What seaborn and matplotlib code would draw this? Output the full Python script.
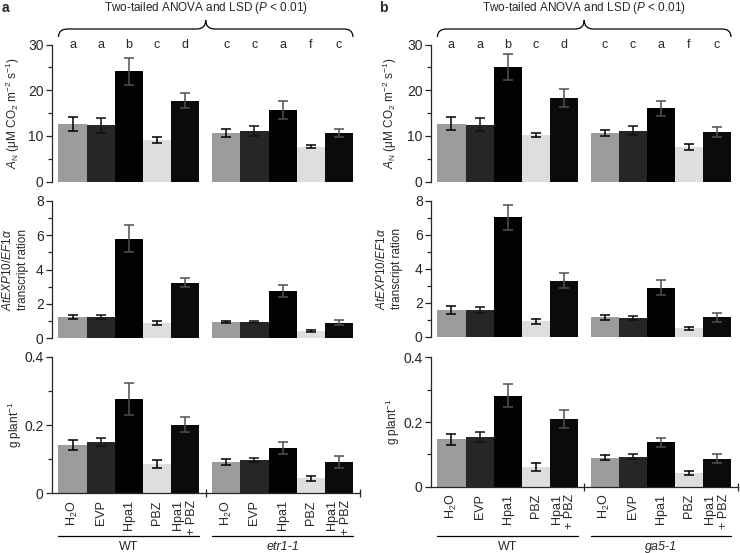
import numpy as np
import pandas as pd
import matplotlib.pyplot as plt
from matplotlib.path import Path
from matplotlib.patches import PathPatch
from matplotlib.lines import Line2D
import seaborn as sns

sns.set_style('ticks')
plt.rcParams['font.family'] = ['Liberation Sans', 'DejaVu Sans']
plt.rcParams['mathtext.fontset'] = 'custom'
plt.rcParams['mathtext.rm'] = 'Liberation Sans'
plt.rcParams['mathtext.it'] = 'Liberation Sans:italic'
plt.rcParams['mathtext.bf'] = 'Liberation Sans:bold'

# ---- data ----
treatments = ['H2O', 'EVP', 'Hpa1', 'PBZ', 'Hpa1+PBZ']
tick_labels = ['H$_2$O', 'EVP', 'Hpa1', 'PBZ', 'Hpa1\n+ PBZ']
bar_colors = ['#9c9c9c', '#262626', '#020202', '#dedede', '#0b0b0b']
err_colors = ['#000000', '#111111', '#505050', '#000000', '#505050']
letters = ['a', 'a', 'b', 'c', 'd', 'c', 'c', 'a', 'f', 'c']

# panel a : WT / etr1-1
an_a = [12.6, 12.3, 24.1, 9.1, 17.7, 10.6, 11.1, 15.6, 7.6, 10.7]
an_a_err = [1.45, 1.6, 3.0, 0.6, 1.6, 0.85, 1.1, 2.0, 0.35, 0.9]
exp_a = [1.24, 1.24, 5.8, 0.9, 3.24, 0.95, 0.95, 2.74, 0.45, 0.9]
exp_a_err = [0.14, 0.13, 0.8, 0.1, 0.28, 0.04, 0.04, 0.34, 0.06, 0.14]
gp_a = [0.141, 0.151, 0.276, 0.086, 0.201, 0.091, 0.098, 0.134, 0.044, 0.091]
gp_a_err = [0.015, 0.011, 0.047, 0.012, 0.022, 0.009, 0.007, 0.018, 0.007, 0.017]

# panel b : WT / ga5-1
an_b = [12.7, 12.4, 25.1, 10.2, 18.2, 10.6, 11.1, 16.0, 7.6, 10.8]
an_b_err = [1.35, 1.45, 2.9, 0.45, 1.95, 0.7, 1.0, 1.55, 0.65, 1.1]
exp_b = [1.57, 1.57, 7.02, 0.92, 3.29, 1.14, 1.08, 2.88, 0.49, 1.14]
exp_b_err = [0.22, 0.2, 0.73, 0.15, 0.43, 0.13, 0.12, 0.45, 0.08, 0.26]
gp_b = [0.146, 0.153, 0.281, 0.062, 0.209, 0.09, 0.093, 0.137, 0.041, 0.086]
gp_b_err = [0.017, 0.015, 0.036, 0.012, 0.028, 0.009, 0.008, 0.015, 0.006, 0.014]

groups_a = ['WT', 'etr1-1']
groups_b = ['WT', 'ga5-1']

GAP = 0.46
pos = [i for i in range(5)] + [5 + GAP + i for i in range(5)]
XLIM = (-0.73, 10.21)

W, H = 740, 553
fig = plt.figure(figsize=(W / 100, H / 100), dpi=100)


def rect(l, r, t, b):
    return [l / W, 1 - b / H, (r - l) / W, (b - t) / H]


def fig_xy(ax, xd, ypx):
    # data x of ax + pixel y from top -> figure fraction
    dx, _ = ax.transData.transform((xd, 0))
    return dx / W, 1 - ypx / H


def bars(ax, vals, errs, ymax, major, ylabel, lab_px, box, bottom=False, groups=None):
    df = pd.DataFrame({'pos': pos, 'val': vals, 'trt': treatments * 2})
    sns.barplot(data=df, x='pos', y='val', hue='trt', hue_order=treatments,
                palette=dict(zip(treatments, bar_colors)), native_scale=True,
                dodge=False, width=1.0, errorbar=None, saturation=1,
                linewidth=0, legend=False, ax=ax)
    for i in range(len(pos)):
        ax.errorbar(pos[i], vals[i], yerr=errs[i], fmt='none', ecolor=err_colors[i % 5],
                    elinewidth=1.1, capsize=3.8, capthick=1.1, zorder=5)
    ax.set_xlim(*XLIM)
    ax.set_ylim(0, ymax)
    ax.set_yticks(np.arange(0, ymax + 1e-9, major))
    ax.set_yticks(np.arange(0, ymax + 1e-9, major / 2), minor=True)
    ax.set_yticklabels([('%g' % v) for v in np.arange(0, ymax + 1e-9, major)])
    ax.tick_params(axis='y', which='major', direction='out', length=4, width=0.9,
                   labelsize=10, pad=2)
    ax.tick_params(axis='y', which='minor', direction='out', length=3, width=0.9)
    for s in ['top', 'right']:
        ax.spines[s].set_visible(False)
    ax.spines['left'].set_linewidth(0.9)
    ax.set_xlabel('')
    ax.set_ylabel(ylabel, fontsize=8.5, linespacing=1.3)
    ax.yaxis.label.set_va('center')
    ax.yaxis.set_label_coords((lab_px - box[0]) / (box[1] - box[0]), 0.5)
    if bottom:
        ax.spines['bottom'].set_linewidth(0.9)
        ax.set_xticks(pos)
        ax.set_xticklabels(tick_labels * 2, rotation=90, va='top', ha='center',
                           multialignment='right', fontsize=9, linespacing=1.15)
        ax.set_xticks([4.5 + GAP / 2, XLIM[1]], minor=True)
        ax.tick_params(axis='x', which='major', length=0, pad=5)
        ax.tick_params(axis='x', which='minor', direction='inout', length=6, width=0.9)
        for g, (a, b) in enumerate([(-0.5, 4.5), (4.5 + GAP, 9.5 + GAP)]):
            x0, y0 = fig_xy(ax, a, 536)
            x1, _ = fig_xy(ax, b, 536)
            fig.add_artist(Line2D([x0, x1], [y0, y0], color='black', lw=0.9))
            xm, ym = fig_xy(ax, (a + b) / 2, 547)
            fig.text(xm, ym, groups[g], ha='center', va='center', fontsize=9,
                     style='normal' if groups[g] == 'WT' else 'italic')
    else:
        ax.spines['bottom'].set_visible(False)
        ax.set_xticks([])


def brace(ax, title):
    a, b = -0.5, 9.5 + GAP
    xa = ax.transData.transform((a, 0))[0]
    xb = ax.transData.transform((b, 0))[0]
    xm = (xa + xb) / 2
    y_end, y_line, y_tip, r = H - 37, H - 29, H - 20, 9
    verts = [(xa, y_end), (xa, y_line), (xa + r, y_line),
             (xm - r, y_line), (xm, y_line), (xm, y_tip),
             (xm, y_line), (xm + r, y_line),
             (xb - r, y_line), (xb, y_line), (xb, y_end)]
    codes = [Path.MOVETO, Path.CURVE3, Path.CURVE3,
             Path.LINETO, Path.CURVE3, Path.CURVE3,
             Path.CURVE3, Path.CURVE3,
             Path.LINETO, Path.CURVE3, Path.CURVE3]
    verts = [(x / W, y / H) for x, y in verts]
    fig.add_artist(PathPatch(Path(verts, codes), transform=fig.transFigure,
                             fill=False, lw=0.9, color='black'))
    fig.text(xm / W, 1 - 8 / H, title, ha='center', va='center', fontsize=8.5)
    for p, l in zip(pos, letters):
        ax.text(p, ax.get_ylim()[1], l, ha='center', va='center', fontsize=9,
                clip_on=False)


an_label = r'$A_{\mathrm{N}}$ (μM CO$_2$ m$^{-2}$ s$^{-1}$)'
exp_label = r'$\mathit{AtEXP10/EF1\alpha}$' + '\ntranscript ration'
gp_label = r'g plant$^{-1}$'
title = r'Two-tailed ANOVA and LSD ($P$ < 0.01)'

panels = [
    dict(L=52, R=360, rows=[(44.5, 181.5), (201, 338.3), (357, 493.3)],
         labs=[13, 15, 15], data=[(an_a, an_a_err), (exp_a, exp_a_err), (gp_a, gp_a_err)],
         groups=groups_a, tag='a', tag_x=5),
    dict(L=431, R=738, rows=[(44.5, 181.5), (200.7, 336.7), (357.3, 486.7)],
         labs=[390, 389, 393], data=[(an_b, an_b_err), (exp_b, exp_b_err), (gp_b, gp_b_err)],
         groups=groups_b, tag='b', tag_x=383),
]
specs = [(30, 10, an_label), (8, 2, exp_label), (0.4, 0.2, gp_label)]

for p in panels:
    axes = []
    for k, ((t, b), (vals, errs), (ymax, major, lab)) in enumerate(zip(p['rows'], p['data'], specs)):
        ax = fig.add_axes(rect(p['L'], p['R'], t, b))
        bars(ax, vals, errs, ymax, major, lab, p['labs'][k], (p['L'], p['R']),
             bottom=(k == 2), groups=p['groups'])
        axes.append(ax)
    brace(axes[0], title)
    fig.text(p['tag_x'] / W, 1 - 8 / H, p['tag'], ha='center', va='center',
             fontsize=10, fontweight='bold')

fig.savefig('out.png', dpi=100)
